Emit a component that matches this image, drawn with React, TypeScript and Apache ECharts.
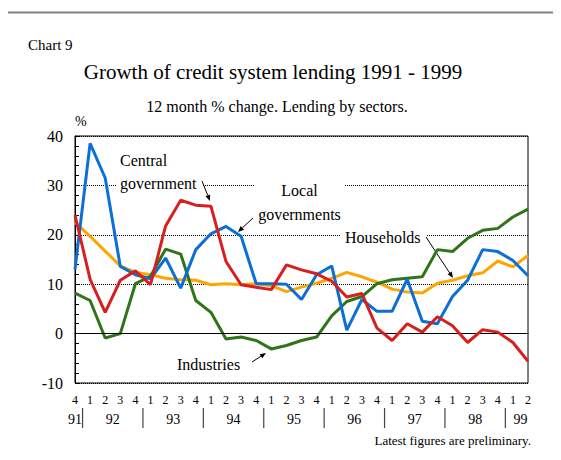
import React, { useEffect, useRef } from 'react';
import * as echarts from 'echarts';

const quarters = [
  '4',
  '1', '2', '3', '4',
  '1', '2', '3', '4',
  '1', '2', '3', '4',
  '1', '2', '3', '4',
  '1', '2', '3', '4',
  '1', '2', '3', '4',
  '1', '2', '3', '4',
  '1', '2',
];
const years = ['91', '92', '93', '94', '95', '96', '97', '98', '99'];

const centralGovernment = [24, 11, 4.3, 10.8, 12.7, 9.9, 21.8, 27, 26, 25.8, 14.6, 9.9, 9.4, 8.9, 13.9, 12.9, 12.1, 10.6, 7.4, 8.1, 1.1, -1.4, 2.0, 0.3, 3.4, 1.6, -1.8, 0.8, 0.3, -1.8, -5.6];
const localGovernments = [13, 38.5, 31.5, 13.6, 11.9, 11.1, 15.3, 9.2, 17, 20.2, 21.7, 19.7, 10.1, 10.1, 10, 6.9, 11.9, 13.7, 0.7, 6.9, 4.5, 4.5, 11, 2.5, 2.0, 7.5, 10.8, 17, 16.6, 14.8, 11.7];
const households = [22.5, 19.7, 16.7, 13.7, 12.4, 11.9, 11.2, 10.9, 10.8, 9.9, 10.1, 9.9, 10.1, 9.7, 8.5, 9.4, 10.2, 11.2, 12.4, 11.5, 10.4, 9.0, 8.4, 8.2, 10.2, 10.8, 11.7, 12.3, 14.7, 13.5, 15.8];
const industries = [8.2, 6.7, -0.9, 0, 10.1, 11.6, 17.1, 16.1, 6.7, 4.3, -1.1, -0.7, -1.4, -3.1, -2.4, -1.4, -0.7, 3.6, 6.5, 7.5, 10.1, 10.9, 11.2, 11.5, 17, 16.6, 19.3, 20.9, 21.3, 23.6, 25.2];

const yMin = -10;
const yMax = 40;
const yStep = 10;

const FONT = 'Liberation Serif';

function arrow(x1: number, y1: number, x2: number, y2: number) {
  const ang = Math.atan2(y2 - y1, x2 - x1);
  const len = 6;
  const hw = 2.5;
  const bx = x2 - len * Math.cos(ang);
  const by = y2 - len * Math.sin(ang);
  const nx = -Math.sin(ang);
  const ny = Math.cos(ang);
  return [
    { type: 'line', silent: true, shape: { x1, y1, x2: bx, y2: by }, style: { stroke: '#000', lineWidth: 1 } },
    {
      type: 'polygon', silent: true,
      shape: { points: [[x2, y2], [bx + nx * hw, by + ny * hw], [bx - nx * hw, by - ny * hw]] },
      style: { fill: '#000' },
    },
  ];
}

export default function App() {
  const ref = useRef<HTMLDivElement>(null);
  useEffect(() => {
    const chart = echarts.init(ref.current!, null, { renderer: 'svg' });
    const mk = (name: string, data: number[], color: string, z: number, extra: any = {}) => ({
      type: 'line', name, data, symbol: 'none', showSymbol: false, z,
      lineStyle: { color, width: 3 }, itemStyle: { color }, ...extra,
    });

    const txt = (text: string, x: number, y: number, size: number, align: string) => ({
      type: 'text', x, y,
      style: { text, fontSize: size, fontFamily: FONT, fill: '#000', verticalAlign: 'middle', align },
    });
    const white = (x: number, y: number, w: number, h: number) => ({
      type: 'rect', shape: { x, y, width: w, height: h }, style: { fill: '#fff' },
    });

    chart.setOption({
      animation: false,
      grid: { left: 75, right: 33, top: 136, bottom: 77, show: true, borderColor: '#000', borderWidth: 1 },
      xAxis: {
        type: 'category', data: quarters, boundaryGap: false,
        axisLine: { lineStyle: { color: '#000', width: 1 } },
        axisTick: { show: false },
        axisLabel: { interval: 0, color: '#000', fontSize: 12, margin: 11, fontFamily: FONT },
        splitLine: { show: false },
      },
      yAxis: {
        type: 'value', min: yMin, max: yMax, interval: yStep,
        name: '%', nameLocation: 'end', nameGap: 8,
        nameTextStyle: { color: '#000', fontSize: 14, align: 'left', fontFamily: FONT },
        axisLine: { show: true, lineStyle: { color: '#000' } },
        axisTick: { show: true, inside: true, length: 5, lineStyle: { color: '#000' } },
        minorTick: { show: true, splitNumber: 5, length: 4, lineStyle: { color: '#000' } },
        axisLabel: { color: '#000', fontSize: 16, margin: 12, fontFamily: FONT },
        splitLine: { show: true, lineStyle: { color: '#000', type: 'dotted', width: 1 } },
      },
      series: [
        mk('Households', households, '#ffa500', 2, {
          markLine: {
            silent: true, symbol: 'none', label: { show: false },
            lineStyle: { color: '#000', type: 'solid', width: 1 },
            data: [{ yAxis: 0 }],
          },
        }),
        mk('Industries', industries, '#2f7419', 3),
        mk('Local governments', localGovernments, '#0a6fd6', 4),
        mk('Central government', centralGovernment, '#d91e1e', 5),
      ],
    });

    const px = (i: number) => chart.convertToPixel({ xAxisIndex: 0 }, i) as number;
    const groups: number[][] = [];
    let cur: number[] = [];
    quarters.forEach((q, i) => {
      if (q === '1' && cur.length) { groups.push(cur); cur = []; }
      cur.push(i);
    });
    groups.push(cur);

    const g: any[] = [];
    g.push({ type: 'rect', shape: { x: 6, y: 12.5, width: 600, height: 500 }, style: { fill: 'none', stroke: '#808080', lineWidth: 2 } });
    g.push(txt('Chart 9', 28, 45, 15, 'left'));
    g.push(txt('Growth of credit system lending 1991 - 1999', 273, 72, 21, 'center'));
    g.push(txt('12 month % change. Lending by sectors.', 277, 106, 16, 'center'));
    g.push(txt('Latest figures are preliminary.', 531, 440, 13, 'right'));

    groups.forEach((grp, k) => {
      const xs = grp.map(px);
      const cx = xs.reduce((a, b) => a + b, 0) / xs.length;
      g.push(txt(years[k], cx, 419, 14, 'center'));
      if (k > 0) {
        const sx = (px(grp[0]) + px(grp[0] - 1)) / 2;
        g.push({ type: 'line', shape: { x1: sx, y1: 408, x2: sx, y2: 428 }, style: { stroke: '#444', lineWidth: 1.2 } });
      }
    });

    g.push(white(116, 174, 86, 18));
    g.push(white(255, 181, 90, 44));
    g.push(white(340, 229, 86, 17));
    g.push(white(174, 356, 68, 17));
    g.push(txt('Central', 120, 160, 16, 'left'));
    g.push(txt('government', 120, 183, 16, 'left'));
    g.push(txt('Local', 299.5, 190, 16, 'center'));
    g.push(txt('governments', 299.5, 214, 16, 'center'));
    g.push(txt('Households', 345, 237, 16, 'left'));
    g.push(txt('Industries', 177, 364, 16, 'left'));
    g.push(...arrow(202, 181, 210, 201));
    g.push(...arrow(253, 218, 238, 232));
    g.push(...arrow(426, 237, 453, 278));
    g.push(...arrow(252, 362, 266, 353));

    chart.setOption({ graphic: g });
    return () => chart.dispose();
  }, []);
  return <div ref={ref} style={{ width: 561, height: 460, margin: '-8px 0 0 -8px' }} />;
}
